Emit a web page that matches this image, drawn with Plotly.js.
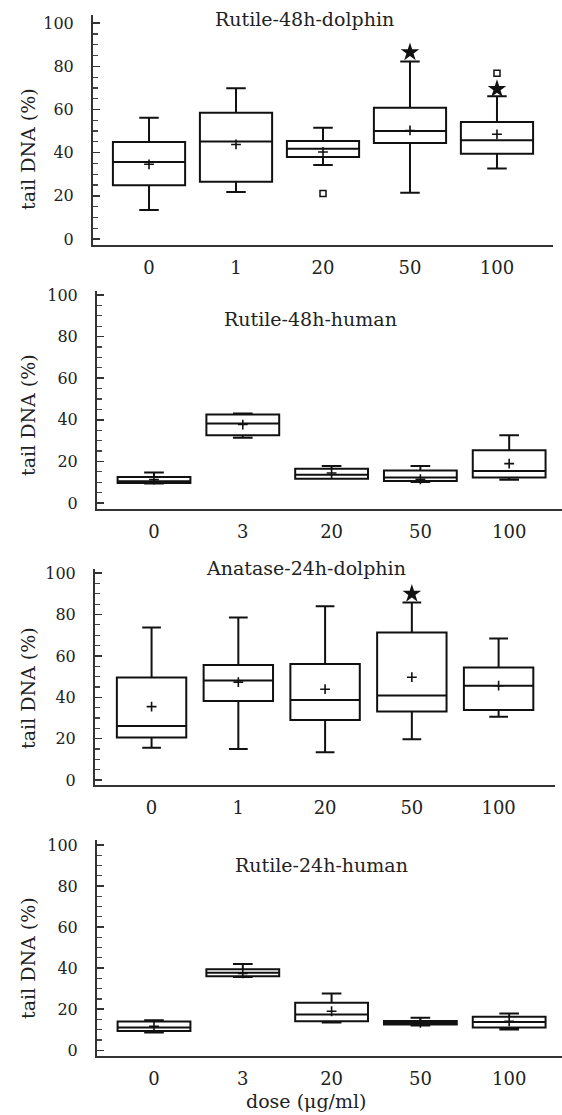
<!DOCTYPE html>
<html>
<head>
<meta charset="utf-8">
<script src="https://cdn.plot.ly/plotly-3.0.1.min.js"></script>
<style>html,body{margin:0;padding:0;background:#fff;}#chart{width:562px;height:1115px;}</style>
</head>
<body>
<div id="chart"></div>
<script>
// ---------------- data ----------------
const titles = ["Rutile-48h-dolphin", "Rutile-48h-human", "Anatase-24h-dolphin", "Rutile-24h-human"];
const yTitle = "tail DNA (%)";
const xTitle = "dose (\u03bcg/ml)";
const yTickVals = [0, 20, 40, 60, 80, 100];
const yTickText = ["0", "20", "40", "60", "80", "100"];

// Panel 1: Rutile-48h-dolphin
const doses1 = ["0", "1", "20", "50", "100"];
const upper1 = [56.2, 69.8, 51.6, 82.3, 66.2];
const q3_1   = [44.9, 58.5, 45.4, 60.8, 54.2];
const med1   = [35.7, 45.2, 41.8, 50.0, 45.7];
const q1_1   = [24.9, 26.5, 38.0, 44.5, 39.5];
const lower1 = [13.4, 21.8, 34.3, 21.4, 32.6];
const mean1  = [34.6, 43.8, 40.3, 50.3, 48.5];
const sqX1 = ["20", "100"], sqY1 = [21.1, 76.8];
const starX1 = ["50", "100"], starY1 = [86.5, 69.5];

// Panel 2: Rutile-48h-human
const doses2 = ["0", "3", "20", "50", "100"];
const upper2 = [14.6, 43.0, 17.8, 17.8, 32.6];
const q3_2   = [12.5, 42.5, 16.4, 15.6, 25.4];
const med2   = [10.5, 38.2, 13.6, 12.2, 15.4];
const q1_2   = [9.6, 32.6, 11.7, 10.6, 12.2];
const lower2 = [9.3, 31.3, 11.7, 10.1, 11.2];
const mean2  = [11.2, 37.7, 14.4, 11.4, 18.9];

// Panel 3: Anatase-24h-dolphin
const doses3 = ["0", "1", "20", "50", "100"];
const upper3 = [73.7, 78.5, 84.0, 85.8, 68.4];
const q3_3   = [49.5, 55.6, 56.1, 71.3, 54.4];
const med3   = [26.1, 48.1, 38.7, 40.8, 45.6];
const q1_3   = [20.6, 38.2, 29.0, 33.1, 33.9];
const lower3 = [15.6, 15.0, 13.4, 19.7, 30.6];
const mean3  = [35.5, 47.3, 43.9, 49.7, 45.6];
const starX3 = ["50"], starY3 = [90.0];

// Panel 4: Rutile-24h-human
const doses4 = ["0", "3", "20", "50", "100"];
const upper4 = [14.6, 42.0, 27.6, 15.8, 17.9];
const q3_4   = [14.0, 39.4, 23.1, 14.3, 16.3];
const med4   = [11.1, 37.7, 17.4, 13.5, 13.8];
const q1_4   = [9.4, 36.1, 14.1, 12.5, 11.1];
const lower4 = [8.6, 35.7, 13.5, 12.0, 10.1];
const mean4  = [11.7, 37.4, 19.0, 13.3, 14.1];

// ---------------- layout geometry (pixels) ----------------
const W = 562, H = 1115;
const FONT = "DejaVu Serif, Liberation Serif, serif";
const INK = "#111";
const dx = (a, b) => [a / W, b / W];
const dy = (top, bottom) => [1 - bottom / H, 1 - top / H];

const panels = [
  {xd: dx(93, 553), yd: dy(15, 245),  xr: [-0.644, 4.644], yr: [-2.8, 103.8], bw: 0.83},
  {xd: dx(97, 562), yd: dy(291, 509), xr: [-0.642, 4.595], yr: [-2.9, 101.9], bw: 0.82},
  {xd: dx(95, 555), yd: dy(569, 785), xr: [-0.652, 4.65],  yr: [-2.4, 102.0], bw: 0.80},
  {xd: dx(97, 562), yd: dy(840, 1056),xr: [-0.642, 4.595], yr: [-2.8, 102.4], bw: 0.82}
];

const boxData = [
  {x: doses1, up: upper1, q3: q3_1, md: med1, q1: q1_1, lo: lower1, mn: mean1},
  {x: doses2, up: upper2, q3: q3_2, md: med2, q1: q1_2, lo: lower2, mn: mean2},
  {x: doses3, up: upper3, q3: q3_3, md: med3, q1: q1_3, lo: lower3, mn: mean3},
  {x: doses4, up: upper4, q3: q3_4, md: med4, q1: q1_4, lo: lower4, mn: mean4}
];

const traces = [];
const layout = {
  width: W, height: H,
  margin: {l: 0, r: 0, t: 0, b: 0},
  paper_bgcolor: "#fff", plot_bgcolor: "rgba(0,0,0,0)",
  showlegend: false,
  font: {family: FONT, color: "#222", size: 16},
  annotations: []
};

boxData.forEach((d, i) => {
  const n = i === 0 ? "" : String(i + 1);
  const xa = "x" + n, ya = "y" + n;
  const p = panels[i];
  traces.push({
    type: "box", x: d.x, q1: d.q1, median: d.md, q3: d.q3,
    lowerfence: d.lo, upperfence: d.up,
    xaxis: xa, yaxis: ya, boxpoints: false,
    width: p.bw, whiskerwidth: 0.27,
    fillcolor: "rgba(255,255,255,0)", line: {color: INK, width: 2},
    hoverinfo: "skip"
  });
  traces.push({
    type: "scatter", mode: "markers", x: d.x, y: d.mn, xaxis: xa, yaxis: ya,
    marker: {symbol: "cross-thin", size: 7, line: {color: INK, width: 1.6}},
    hoverinfo: "skip"
  });
  layout["xaxis" + n] = {
    domain: p.xd, anchor: ya, type: "category", range: p.xr,
    categoryorder: "array", categoryarray: d.x,
    showline: true, linecolor: "#333", linewidth: 2, ticks: "",
    showgrid: false, zeroline: false, fixedrange: true,
    tickfont: {family: FONT, size: 18, color: "#222"}, ticklabelstandoff: 5
  };
  layout["yaxis" + n] = {
    domain: p.yd, anchor: xa, range: p.yr,
    tickvals: yTickVals, ticktext: yTickText,
    showline: true, linecolor: "#333", linewidth: 2,
    ticks: "inside", ticklen: 7, tickwidth: 1.5, tickcolor: "#333",
    minor: {ticks: "inside", dtick: 5, ticklen: 5, tickwidth: 1.2, tickcolor: "#444", showgrid: false},
    showgrid: false, zeroline: false, fixedrange: true,
    tickfont: {family: FONT, size: 16, color: "#222"}, ticklabelstandoff: 14
  };
});

// outliers
traces.push({type: "scatter", mode: "markers", x: sqX1, y: sqY1, xaxis: "x", yaxis: "y",
  marker: {symbol: "square-open", size: 6, line: {color: INK, width: 1.5}, color: INK}, hoverinfo: "skip"});
traces.push({type: "scatter", mode: "markers", x: starX1, y: starY1, xaxis: "x", yaxis: "y",
  marker: {symbol: "star", size: 14, color: INK}, hoverinfo: "skip"});
traces.push({type: "scatter", mode: "markers", x: starX3, y: starY3, xaxis: "x3", yaxis: "y3",
  marker: {symbol: "star", size: 14, color: INK}, hoverinfo: "skip"});

// panel titles
const titlePos = [[304, 19], [310, 319], [306, 568], [321, 865]];
const yTitlePos = [[28, 149], [28, 415], [28, 688], [28, 958]];
titles.forEach((t, i) => {
  layout.annotations.push({
    text: t, xref: "paper", yref: "paper",
    x: titlePos[i][0] / W, y: 1 - titlePos[i][1] / H,
    xanchor: "center", yanchor: "middle", showarrow: false,
    font: {family: FONT, size: 19, color: "#222"}
  });
  layout.annotations.push({
    text: yTitle, xref: "paper", yref: "paper", textangle: -90,
    x: yTitlePos[i][0] / W, y: 1 - yTitlePos[i][1] / H,
    xanchor: "center", yanchor: "middle", showarrow: false,
    font: {family: FONT, size: 19, color: "#222"}
  });
});
layout.annotations.push({
  text: xTitle, xref: "paper", yref: "paper",
  x: 306 / W, y: 1 - 1101 / H, xanchor: "center", yanchor: "middle", showarrow: false,
  font: {family: FONT, size: 19, color: "#222"}
});

Plotly.newPlot("chart", traces, layout, {staticPlot: true, displayModeBar: false});
</script>
</body>
</html>
